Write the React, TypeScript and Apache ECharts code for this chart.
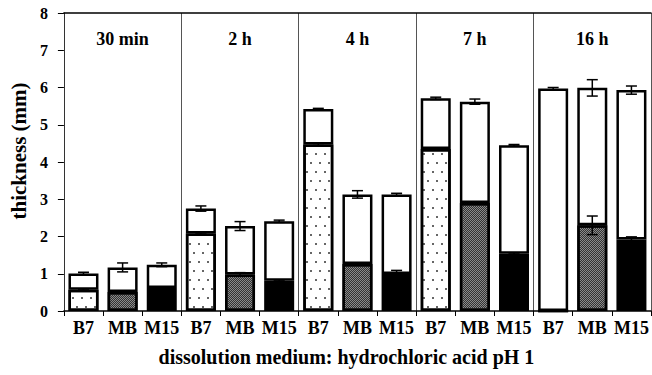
import React, { useEffect, useRef } from "react";
import * as echarts from "echarts";

const categories = ["B7", "MB", "M15", "B7", "MB", "M15", "B7", "MB", "M15", "B7", "MB", "M15", "B7", "MB", "M15"];
const groups = ["30 min", "2 h", "4 h", "7 h", "16 h"];
const bottomValues = [0.57, 0.51, 0.62, 2.08, 0.98, 0.81, 4.47, 1.26, 0.99, 4.35, 2.9, 1.54, 0, 2.3, 1.92];
const totalValues = [1.01, 1.17, 1.24, 2.75, 2.28, 2.41, 5.42, 3.13, 3.13, 5.71, 5.62, 4.45, 5.97, 5.99, 5.93];
const bottomErrors = [0.02, 0.02, 0.02, 0.02, 0.05, 0.02, 0.03, 0.02, 0.1, 0.02, 0.02, 0.02, 0, 0.25, 0.07];
const totalErrors = [0.03, 0.12, 0.05, 0.07, 0.12, 0.03, 0.02, 0.1, 0.03, 0.03, 0.07, 0.02, 0.03, 0.22, 0.11];
const yTicks = [0, 1, 2, 3, 4, 5, 6, 7, 8];

const FONT = "'Liberation Serif', 'Times New Roman', serif";

const materialStyles: any[] = [
  {
    color: "#ffffff",
    borderColor: "#000",
    borderWidth: 2.5,
    decal: { symbol: "rect", symbolSize: 1, dashArrayX: [[1.5, 6.5], [0, 4, 1.5, 2.5]], dashArrayY: [1.5, 6.5], color: "rgba(0,0,0,0.6)" },
  },
  {
    color: "#8a8a8a",
    borderColor: "#000",
    borderWidth: 2.5,
    decal: { symbol: "rect", symbolSize: 1, dashArrayX: [[1, 1], [0, 1, 1, 0]], dashArrayY: [1, 0], color: "#333" },
  },
  { color: "#000000", borderColor: "#000", borderWidth: 2.5 },
];

export default function App() {
  const ref = useRef<HTMLDivElement>(null);
  useEffect(() => {
    if (!ref.current) return;
    const chart = echarts.init(ref.current, null, { renderer: "svg" });
    const topValues = totalValues.map((t, i) => Number((t - bottomValues[i]).toFixed(3)));
    const errData: any[] = [];
    totalValues.forEach((v, i) => errData.push([i, v, totalErrors[i]]));
    bottomValues.forEach((v, i) => {
      if (bottomErrors[i] > 0) errData.push([i, v, bottomErrors[i]]);
    });
    chart.setOption({
      animation: false,
      grid: { left: 63, right: 1, top: 13, bottom: 64 },
      xAxis: [
        {
          type: "category",
          data: categories,
          position: "bottom",
          axisLine: { lineStyle: { color: "#000", width: 1.5 } },
          axisTick: { show: true, interval: 0, length: 5, lineStyle: { color: "#000" } },
          axisLabel: { interval: 0, margin: 8, color: "#000", fontFamily: FONT, fontWeight: "bold", fontSize: 18 },
          name: "dissolution medium: hydrochloric acid pH 1",
          nameLocation: "middle",
          nameGap: 36,
          nameTextStyle: { color: "#000", fontFamily: FONT, fontWeight: "bold", fontSize: 20, padding: [0, 22, 0, 0] },
        },
        {
          type: "category",
          data: groups,
          position: "top",
          axisLine: { show: true, lineStyle: { color: "#000", width: 1.5 } },
          axisTick: { show: false },
          axisLabel: { inside: true, margin: 17, color: "#000", fontFamily: FONT, fontWeight: "bold", fontSize: 18 },
          splitLine: { show: true, lineStyle: { color: "#555", width: 1 } },
        },
      ],
      yAxis: {
        type: "value",
        min: 0,
        max: yTicks[yTicks.length - 1],
        interval: 1,
        axisLine: { show: true, lineStyle: { color: "#333", width: 1 } },
        axisTick: { show: true, length: 6, lineStyle: { color: "#000" } },
        splitLine: { show: false },
        axisLabel: { margin: 16, color: "#000", fontFamily: FONT, fontWeight: "bold", fontSize: 16 },
        name: "thickness (mm)",
        nameLocation: "middle",
        nameGap: 31,
        nameTextStyle: { color: "#000", fontFamily: FONT, fontWeight: "bold", fontSize: 21, padding: [0, 0, 0, 22] },
      },
      series: [
        {
          type: "bar",
          stack: "t",
          barWidth: 30,
          data: bottomValues.map((v, i) => ({ value: v, itemStyle: materialStyles[i % 3] })),
        },
        {
          type: "bar",
          stack: "t",
          barWidth: 30,
          itemStyle: { color: "#fff", borderColor: "#000", borderWidth: 2.5 },
          data: topValues,
        },
        {
          type: "custom",
          z: 10,
          data: errData,
          encode: { x: 0, y: 1 },
          renderItem: (params: any, api: any) => {
            const idx = api.value(0);
            const v = api.value(1);
            const e = api.value(2);
            const p1 = api.coord([idx, v + e]);
            const p2 = api.coord([idx, v - e]);
            const hw = 5.5;
            const style = { stroke: "#000", lineWidth: 1.5 };
            return {
              type: "group",
              children: [
                { type: "line", shape: { x1: p1[0], y1: p1[1], x2: p2[0], y2: p2[1] }, style },
                { type: "line", shape: { x1: p1[0] - hw, y1: p1[1], x2: p1[0] + hw, y2: p1[1] }, style },
                { type: "line", shape: { x1: p2[0] - hw, y1: p2[1], x2: p2[0] + hw, y2: p2[1] }, style },
              ],
            };
          },
        },
      ],
    });
    return () => chart.dispose();
  }, []);
  return (
    <div
      ref={ref}
      style={{ position: "absolute", left: 0, top: 0, width: 652, height: 375, background: "#fff" }}
    />
  );
}
